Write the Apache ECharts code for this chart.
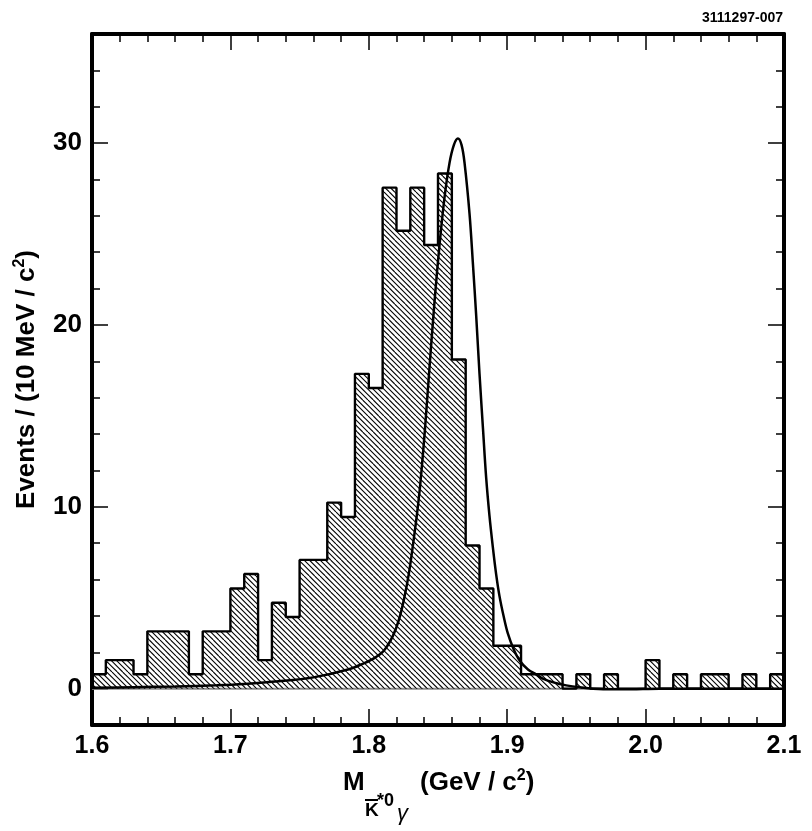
<!DOCTYPE html>
<html>
<head>
<meta charset="utf-8">
<script src="https://cdn.jsdelivr.net/npm/echarts@6/dist/echarts.min.js"></script>
<style>
  html, body { margin: 0; padding: 0; background: #fff; }
  #chart { width: 812px; height: 831px; }
</style>
</head>
<body>
<div id="chart"></div>
<script>
// lower edge of each 10 MeV bin (GeV/c^2)
var binEdges = [1.60, 1.61, 1.62, 1.63, 1.64, 1.65, 1.66, 1.67, 1.68, 1.69,
                1.70, 1.71, 1.72, 1.73, 1.74, 1.75, 1.76, 1.77, 1.78, 1.79,
                1.80, 1.81, 1.82, 1.83, 1.84, 1.85, 1.86, 1.87, 1.88, 1.89,
                1.90, 1.91, 1.92, 1.93, 1.94, 1.95, 1.96, 1.97, 1.98, 1.99,
                2.00, 2.01, 2.02, 2.03, 2.04, 2.05, 2.06, 2.07, 2.08, 2.09];
var lastEdge = 2.10;
// histogram contents (events / bin)
var events = [0.79, 1.57, 1.57, 0.79, 3.15, 3.15, 3.15, 0.79, 3.15, 3.15,
              5.51, 6.30, 1.57, 4.72, 3.94, 7.08, 7.08, 10.23, 9.44, 17.31,
              16.53, 27.55, 25.18, 27.55, 24.40, 28.33, 18.10, 7.87, 5.51, 2.36,
              2.36, 0.79, 0.79, 0.79, 0, 0.79, 0, 0.79, 0, 0,
              1.57, 0, 0.79, 0, 0.79, 0.79, 0, 0.79, 0, 0.79];
// fitted signal shape
var fitX = [1.600, 1.630, 1.660, 1.690, 1.710, 1.735, 1.760, 1.785, 1.796, 1.804,
            1.811, 1.8174, 1.822, 1.8258, 1.829, 1.8318, 1.8345, 1.8370, 1.8403, 1.8437,
            1.8475, 1.8511, 1.8547, 1.8583, 1.8615, 1.8644, 1.867, 1.8692, 1.8728, 1.8752,
            1.8776, 1.880, 1.8825, 1.8848, 1.8872, 1.8896, 1.892, 1.8944, 1.8975, 1.9004,
            1.9045, 1.909, 1.915, 1.921, 1.9257, 1.934, 1.9426, 1.952, 1.962, 1.975,
            1.990, 2.010, 2.100];
var fitY = [0.05, 0.08, 0.12, 0.19, 0.26, 0.40, 0.62, 1.05, 1.38, 1.68,
            2.10, 2.90, 3.85, 5.05, 6.35, 7.84, 9.40, 11.1, 14.0, 17.5,
            21.3, 24.4, 27.0, 28.9, 29.9, 30.25, 29.9, 28.9, 26.1, 23.4,
            20.5, 17.3, 14.3, 11.6, 9.5, 7.8, 6.3, 5.1, 3.95, 3.05,
            2.2, 1.55, 1.05, 0.78, 0.55, 0.33, 0.18, 0.07, 0.0, -0.04,
            -0.03, 0.0, 0.0];
var yMajorTicks = [0, 10, 20, 30];

var FONT = '"Liberation Sans", Arial, Helvetica, sans-serif';

function makeHatch() {
  var c = document.createElement('canvas');
  c.width = 16; c.height = 16;
  var g = c.getContext('2d');
  g.strokeStyle = '#000';
  g.lineWidth = 1.1;
  for (var k = -3; k <= 3; k++) {
    var x0 = k * 16 / 3;
    g.beginPath();
    g.moveTo(x0, 0);
    g.lineTo(x0 + 16, 16);
    g.stroke();
  }
  return c;
}

var histData = binEdges.map(function (e, i) { return [e, events[i]]; });
histData.push([lastEdge, events[events.length - 1]]);
var fitData = fitX.map(function (x, i) { return [x, fitY[i]]; });

var frame = { show: true, onZero: false, lineStyle: { color: '#000', width: 4 } };
var tickStyle = { color: '#000', width: 1.5 };

function xAx(pos, labels) {
  return {
    type: 'value', position: pos, min: 1.6, max: 2.1, interval: 0.1,
    axisLine: frame,
    axisTick: { show: true, inside: true, length: 16, lineStyle: tickStyle },
    minorTick: { show: true, splitNumber: 5, length: 8, lineStyle: tickStyle },
    splitLine: { show: false },
    axisLabel: {
      show: labels, margin: 9, color: '#000', fontSize: 25, fontWeight: 'bold', fontFamily: FONT,
      showMinLabel: true, showMaxLabel: true,
      formatter: function (v) { return v.toFixed(1); }
    }
  };
}
function yMinor(pos, labels) {
  return {
    type: 'value', position: pos, min: -2, max: 36, interval: 2,
    axisLine: frame,
    axisTick: { show: true, inside: true, length: 8, lineStyle: tickStyle },
    splitLine: { show: false },
    axisLabel: {
      show: labels, margin: 10, color: '#000', fontSize: 26, fontWeight: 'bold', fontFamily: FONT,
      formatter: function (v) { return v % 10 === 0 ? String(v) : ''; }
    }
  };
}
function yMajor(pos) {
  return {
    type: 'value', position: pos, min: -2, max: 36,
    axisLine: { show: false },
    axisTick: { show: true, inside: true, length: 16, lineStyle: tickStyle, customValues: yMajorTicks },
    axisLabel: { show: false },
    splitLine: { show: false }
  };
}

var chart = echarts.init(document.getElementById('chart'));
var yLeft = yMinor('left', true);
yLeft.name = 'Events / (10 MeV / c{sup|2})';
yLeft.nameLocation = 'middle';
yLeft.nameRotate = 90;
yLeft.nameGap = 50;
yLeft.nameTextStyle = {
  color: '#000', fontSize: 26, fontWeight: 'bold', fontFamily: FONT, lineHeight: 30,
  rich: { sup: { fontSize: 16, fontWeight: 'bold', fontFamily: FONT, lineHeight: 16, verticalAlign: 'top' } }
};

var option = {
  animation: false,
  backgroundColor: '#fff',
  grid: { left: 92, right: 28, top: 34, bottom: 106, containLabel: false },
  xAxis: [xAx('bottom', true), xAx('top', false)],
  yAxis: [yLeft, yMajor('left'), yMinor('right', false), yMajor('right')],
  series: [
    {
      name: 'zero', type: 'line', silent: true, symbol: 'none', z: 1,
      data: [[1.6, 0], [2.1, 0]],
      lineStyle: { color: '#8a8a8a', width: 2 }
    },
    {
      name: 'data', type: 'line', step: 'end', symbol: 'none', z: 2,
      data: histData,
      lineStyle: { color: '#000', width: 2.4 },
      areaStyle: { color: { image: makeHatch(), repeat: 'repeat' }, opacity: 1 }
    },
    {
      name: 'fit', type: 'line', smooth: 0.35, symbol: 'none', z: 3,
      data: fitData,
      lineStyle: { color: '#000', width: 2.5 }
    }
  ],
  graphic: [
    { type: 'text', x: 783, y: 18, style: { text: '3111297-007', align: 'right', verticalAlign: 'middle',
      fontSize: 14, fontWeight: 'bold', fontFamily: FONT, fill: '#000' } },
    { type: 'text', x: 343, y: 783, style: { text: 'M', align: 'left', verticalAlign: 'middle',
      fontSize: 26, fontWeight: 'bold', fontFamily: FONT, fill: '#000' } },
    { type: 'text', x: 365, y: 811, style: { text: 'K', align: 'left', verticalAlign: 'middle',
      fontSize: 19, fontWeight: 'bold', fontFamily: FONT, fill: '#000' } },
    { type: 'line', shape: { x1: 365, y1: 800, x2: 378, y2: 800 }, style: { stroke: '#000', lineWidth: 2 } },
    { type: 'text', x: 377, y: 801, style: { text: '*0', align: 'left', verticalAlign: 'middle',
      fontSize: 18, fontWeight: 'bold', fontFamily: FONT, fill: '#000' } },
    { type: 'text', x: 397, y: 814, style: { text: 'γ', align: 'left', verticalAlign: 'middle',
      fontSize: 22, fontStyle: 'italic', fontFamily: FONT, fill: '#000' } },
    { type: 'text', x: 420, y: 783, style: {
      text: '{a|(GeV / c}{s|2}{a|)}', align: 'left', verticalAlign: 'middle',
      rich: {
        a: { fontSize: 26, fontWeight: 'bold', fontFamily: FONT, fill: '#000', lineHeight: 30 },
        s: { fontSize: 16, fontWeight: 'bold', fontFamily: FONT, fill: '#000', lineHeight: 16, verticalAlign: 'top' }
      } } }
  ]
};
chart.setOption(option);
</script>
</body>
</html>
